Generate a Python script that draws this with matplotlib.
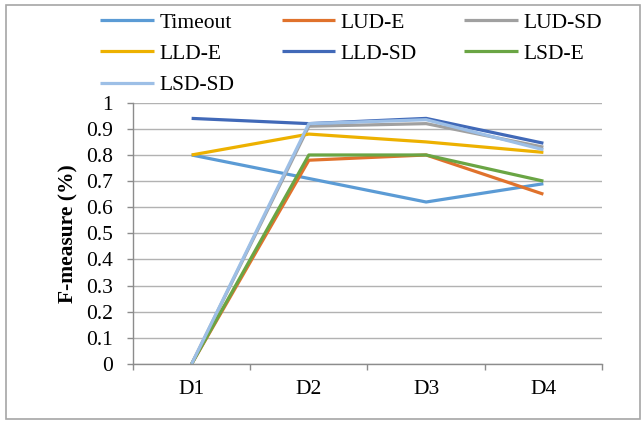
import matplotlib
matplotlib.use("Agg")
import matplotlib.pyplot as plt
from matplotlib.patches import Rectangle
from matplotlib.ticker import FixedLocator

# F-measure per dataset
datasets = ['D1', 'D2', 'D3', 'D4']
timeout = [0.80, 0.71, 0.62, 0.69]
lud_e = [0.0, 0.78, 0.80, 0.65]
lud_sd = [0.0, 0.91, 0.92, 0.83]
lld_e = [0.80, 0.88, 0.85, 0.81]
lld_sd = [0.94, 0.92, 0.94, 0.845]
lsd_e = [0.0, 0.80, 0.80, 0.70]
lsd_sd = [0.0, 0.92, 0.935, 0.82]

series = [
    ('Timeout', timeout, '#5B9BD5'),
    ('LUD-E', lud_e, '#E0722C'),
    ('LUD-SD', lud_sd, '#A0A0A0'),
    ('LLD-E', lld_e, '#EDB100'),
    ('LLD-SD', lld_sd, '#4169B8'),
    ('LSD-E', lsd_e, '#6AA544'),
    ('LSD-SD', lsd_sd, '#9DBFE6'),
]

plt.rcParams['font.family'] = ['Liberation Serif', 'DejaVu Serif']
fs = 15.5

fig = plt.figure(figsize=(6.44, 4.21), dpi=100)
ax = fig.add_axes([0.2065, 0.1354, 0.7283, 0.6206])

x = list(range(len(datasets)))
handles = {}
for name, vals, col in series:
    ln, = ax.plot(x, vals, color=col, lw=2.3, label=name, solid_capstyle='butt')
    handles[name] = ln

ax.set_xlim(-0.5, len(datasets) - 0.5)
ax.set_ylim(0, 1)
ax.set_yticks([i / 10 for i in range(11)])
ax.set_yticklabels(['0', '0.1', '0.2', '0.3', '0.4', '0.5', '0.6', '0.7', '0.8', '0.9', '1'])
ax.set_xticks(x)
ax.set_xticklabels(datasets)
ax.xaxis.set_minor_locator(FixedLocator([i - 0.5 for i in range(len(datasets) + 1)]))

ax.tick_params(axis='x', which='major', length=0, pad=11.5, labelsize=fs)
ax.tick_params(axis='x', which='minor', length=4, width=1, color='#8c8c8c')
ax.tick_params(axis='y', length=4.5, width=1, color='#8c8c8c', pad=10, labelsize=fs)

ax.grid(axis='y', color='#b2b2b2', lw=1)
ax.set_axisbelow(True)
for s in ['top', 'right']:
    ax.spines[s].set_visible(False)
for s in ['left', 'bottom']:
    ax.spines[s].set_color('#8c8c8c')
    ax.spines[s].set_linewidth(1)

ax.set_ylabel('F-measure (%)', fontsize=fs, fontweight='bold', labelpad=5)

# legend laid out row by row: 3 columns, column-major fill order
order = ['Timeout', 'LLD-E', 'LSD-SD', 'LUD-E', 'LLD-SD', 'LUD-SD', 'LSD-E']
fig.legend([handles[n] for n in order], order, ncol=3, frameon=False,
           loc='upper left', bbox_to_anchor=(0.1553, 0.97),
           borderaxespad=0, borderpad=0, fontsize=fs,
           handlelength=2.5, handletextpad=0.25, columnspacing=2.2,
           labelspacing=0.52)

# outer chart border
fig.patches.append(Rectangle((6 / 644, 2 / 421), 634 / 644, 414 / 421,
                             transform=fig.transFigure, fill=False,
                             edgecolor='#a6a6a6', lw=1.2))

fig.savefig('out.png', dpi=100)
